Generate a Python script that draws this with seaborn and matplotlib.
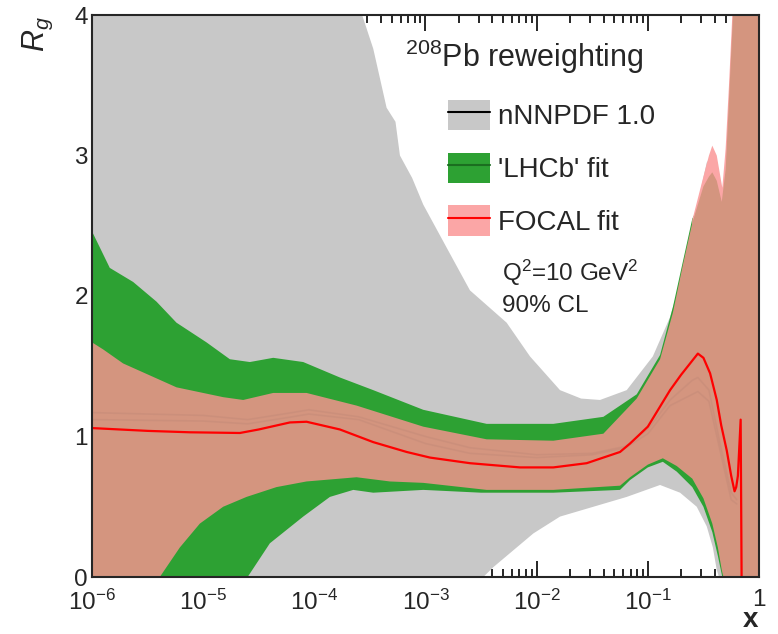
import numpy as np
import matplotlib
matplotlib.use("Agg")
import matplotlib.pyplot as plt
from matplotlib.ticker import LogLocator, MultipleLocator, NullFormatter
from matplotlib.patches import Patch
from matplotlib.lines import Line2D
import seaborn as sns

sns.set_style("ticks")
plt.rcParams['font.family'] = ['Liberation Sans', 'DejaVu Sans']
plt.rcParams['mathtext.fontset'] = 'custom'
plt.rcParams['mathtext.rm'] = 'Liberation Sans'
plt.rcParams['mathtext.it'] = 'Liberation Sans:italic'
plt.rcParams['mathtext.bf'] = 'Liberation Sans:bold'

# ---- data (x given as log10 x) ----
# nNNPDF 1.0 band
gray_up_lx = [-6, -4, -3.57, -3.47, -3.35, -3.27, -3.23, -3.12, -3.02, -2.8, -2.6, -2.27, -2.06,
              -1.79, -1.6, -1.43, -1.19, -0.955, -0.8, -0.73, -0.65, -0.56, -0.47, -0.42, -0.38,
              -0.335, -0.3, -0.25, -0.2, 0]
gray_up = [8, 6, 4.0, 3.76, 3.34, 3.24, 3.0, 2.84, 2.65, 2.33, 2.04, 1.81, 1.57,
           1.33, 1.27, 1.26, 1.33, 1.57, 1.85, 2.04, 2.34, 2.63, 2.95, 3.0, 2.9,
           2.65, 2.95, 3.6, 4.5, 6]
gray_lo_lx = [-6, -2.48, -2.39, -2.24, -2.03, -1.79, -1.49, -1.19, -0.89, -0.71, -0.56, -0.47,
              -0.415, -0.38, -0.36, 0]
gray_lo = [0, 0, 0.07, 0.17, 0.31, 0.43, 0.50, 0.57, 0.655, 0.60, 0.50, 0.36,
           0.21, 0.05, 0, 0]

# 'LHCb' fit band
green_up_lx = [-6, -5.84, -5.63, -5.42, -5.24, -4.97, -4.76, -4.58, -4.37, -4.10, -3.77, -3.47,
               -3.02, -2.45, -1.85, -1.40, -1.10, -0.89, -0.775, -0.6, -0.5, -0.42, -0.335,
               -0.3, -0.25, -0.2]
green_up = [2.46, 2.2, 2.10, 1.96, 1.81, 1.67, 1.55, 1.53, 1.56, 1.53, 1.42, 1.33,
            1.19, 1.09, 1.09, 1.14, 1.30, 1.58, 1.92, 2.55, 2.7, 2.75, 2.6,
            2.8, 3.3, 4.0]
green_lo_lx = [-6, -4.60, -4.40, -4.10, -3.86, -3.65, -3.47, -3.02, -2.5, -1.85, -1.25, -1.16,
               -1.0, -0.865, -0.74, -0.6, -0.5, -0.42, -0.37, -0.33, 0]
green_lo = [0, 0, 0.24, 0.43, 0.57, 0.62, 0.60, 0.62, 0.60, 0.60, 0.62, 0.69,
            0.78, 0.82, 0.75, 0.64, 0.50, 0.32, 0.15, 0, 0]

# FOCAL fit band (90% CL)
brown_up_lx = [-6, -5.9, -5.72, -5.24, -4.82, -4.64, -4.37, -4.07, -3.62, -3.02, -2.45, -1.85,
               -1.40, -1.10, -0.89, -0.775, -0.685, -0.6, -0.5, -0.45, -0.42, -0.38, -0.335,
               -0.3, -0.27, -0.24, -0.2, 0]
brown_up = [1.67, 1.62, 1.52, 1.35, 1.28, 1.26, 1.31, 1.31, 1.22, 1.07, 0.98, 0.97,
            1.02, 1.27, 1.55, 1.88, 2.22, 2.52, 2.78, 2.85, 2.88, 2.82, 2.67,
            2.9, 3.4, 3.9, 4.6, 6]
brown_lo_lx = [-6, -5.39, -5.21, -5.03, -4.82, -4.61, -4.34, -4.07, -3.62, -3.32, -3.02, -2.45,
               -1.85, -1.25, -1.16, -1.0, -0.865, -0.74, -0.6, -0.5, -0.42, -0.37, -0.335,
               -0.32, 0]
brown_lo = [0, 0, 0.21, 0.38, 0.50, 0.57, 0.64, 0.68, 0.71, 0.68, 0.67, 0.62,
            0.62, 0.65, 0.71, 0.80, 0.845, 0.79, 0.70, 0.56, 0.38, 0.21, 0.05,
            0, 0]
pink_lx = [-0.6, -0.5, -0.45, -0.42, -0.38, -0.33, -0.3, -0.27, -0.24, -0.2, 0]
pink_up = [2.54, 2.85, 3.0, 3.07, 3.0, 2.77, 3.05, 3.5, 4.0, 4.8, 6]
pink_lo = [1.5, 1.5, 1.45, 1.4, 1.25, 1.0, 0.9, 0.75, 0.65, 0.65, 0.65]

# central values
red_lx = [-6, -5.5, -5.12, -4.67, -4.5, -4.22, -4.07, -3.77, -3.47, -3.17, -2.96, -2.6, -2.15,
          -1.85, -1.55, -1.25, -1.16, -1.0, -0.9, -0.8, -0.7, -0.6, -0.55, -0.5, -0.44,
          -0.38, -0.34, -0.29, -0.25, -0.22, -0.205, -0.19, -0.165, -0.155]
red_y = [1.06, 1.04, 1.03, 1.025, 1.05, 1.10, 1.105, 1.05, 0.96, 0.89, 0.85, 0.81, 0.78,
         0.78, 0.81, 0.89, 0.95, 1.07, 1.20, 1.33, 1.44, 1.54, 1.59, 1.56, 1.45,
         1.26, 1.08, 0.90, 0.72, 0.61, 0.64, 0.72, 1.12, -0.2]
faint_lx = [-6, -5, -4.6, -4.2, -4.05, -3.6, -3, -2.6, -2.0, -1.5, -1.2, -1.0, -0.8, -0.6,
            -0.55, -0.45, -0.35, -0.25, -0.2]
faint_a = [1.17, 1.15, 1.12, 1.17, 1.19, 1.14, 1.0, 0.92, 0.87, 0.88, 0.93, 1.05, 1.26, 1.40,
           1.42, 1.33, 0.95, 0.60, 0.55]
faint_b = [1.12, 1.11, 1.09, 1.14, 1.16, 1.12, 0.95, 0.88, 0.85, 0.87, 0.92, 1.02, 1.22, 1.30,
           1.32, 1.25, 0.90, 0.55, 0.52]

labels = ["nNNPDF 1.0", "'LHCb' fit", "FOCAL fit"]
c_gray = "#c8c8c8"
c_green = "#2da133"
c_brown = "#d4957f"
c_pink = "#fba6a6"


def band(ax, lx_up, up, lx_lo, lo, color):
    xs = np.concatenate([10.0 ** np.array(lx_up), (10.0 ** np.array(lx_lo))[::-1]])
    ys = np.concatenate([np.array(up), np.array(lo)[::-1]])
    ax.fill(xs, ys, color=color, lw=0)


fig = plt.figure(figsize=(7.78, 6.34), dpi=100)
ax = fig.add_axes([92 / 778, 1 - 577 / 634, 667 / 778, 562 / 634])
ax.set_xscale('log')

band(ax, gray_up_lx, gray_up, gray_lo_lx, gray_lo, c_gray)
band(ax, green_up_lx, green_up, green_lo_lx, green_lo, c_green)
band(ax, pink_lx, pink_up, pink_lx, pink_lo, c_pink)
band(ax, brown_up_lx, brown_up, brown_lo_lx, brown_lo, c_brown)

sns.lineplot(x=10.0 ** np.array(faint_lx), y=faint_a, ax=ax, color="#c48a78", lw=1.2, alpha=0.5)
sns.lineplot(x=10.0 ** np.array(faint_lx), y=faint_b, ax=ax, color="#c48a78", lw=1.2, alpha=0.5)
sns.lineplot(x=10.0 ** np.array(red_lx), y=red_y, ax=ax, color="#ff0000", lw=1.6, sort=False)

ax.set_xlim(1e-6, 1)
ax.set_ylim(0, 4)

ax.set_xticks([1e-6, 1e-5, 1e-4, 1e-3, 1e-2, 1e-1, 1])
ax.set_xticklabels([r'$10^{-6}$', r'$10^{-5}$', r'$10^{-4}$', r'$10^{-3}$',
                    r'$10^{-2}$', r'$10^{-1}$', '1'])
ax.xaxis.set_minor_locator(LogLocator(base=10, subs=np.arange(2, 10), numticks=20))
ax.xaxis.set_minor_formatter(NullFormatter())
ax.set_yticks([0, 1, 2, 3, 4])
ax.yaxis.set_minor_locator(MultipleLocator(0.2))

ax.tick_params(which='both', direction='in', top=True, right=True, width=1.4, labelsize=17.5)
ax.tick_params(axis='x', which='major', length=11.5, pad=9)
ax.tick_params(axis='x', which='minor', length=5.8)
ax.tick_params(axis='y', which='major', length=15, pad=3)
ax.tick_params(axis='y', which='minor', length=8)
for s in ax.spines.values():
    s.set_linewidth(1.5)
    s.set_visible(True)
ax.set_xlabel('')
ax.set_ylabel('')

# axis titles
ax.text(-0.081, 0.998, r'$R_g$', transform=ax.transAxes, rotation=90,
        ha='center', va='top', fontsize=22)
ax.text(0.988, (577 - 627) / 562, 'x', transform=ax.transAxes, ha='center', va='baseline',
        fontsize=20, fontweight='bold')

# annotations
ax.text((405 - 92) / 667, (577 - 67) / 562, r'$^{208}$Pb reweighting', transform=ax.transAxes,
        ha='left', va='baseline', fontsize=22)
ax.text((502 - 92) / 667, (577 - 281) / 562, r'Q$^{2}$=10 GeV$^{2}$', transform=ax.transAxes,
        ha='left', va='baseline', fontsize=17.5)
ax.text((502 - 92) / 667, (577 - 312) / 562, '90% CL', transform=ax.transAxes,
        ha='left', va='baseline', fontsize=17.5)

handles = [(Patch(facecolor=c_gray, lw=0), Line2D([], [], color='black', lw=1.5)),
           (Patch(facecolor=c_green, lw=0), Line2D([], [], color='#1b6e20', lw=1.5)),
           (Patch(facecolor=c_pink, lw=0), Line2D([], [], color='#ff0000', lw=1.5))]
ax.legend(handles, labels, loc='upper left',
          bbox_to_anchor=((448 - 92) / 667, (577 - 100) / 562), frameon=False,
          fontsize=20, handlelength=1.5, handleheight=1.3, handletextpad=0.3,
          labelspacing=0.8, borderpad=0, borderaxespad=0)

fig.savefig('out.png', dpi=100)
